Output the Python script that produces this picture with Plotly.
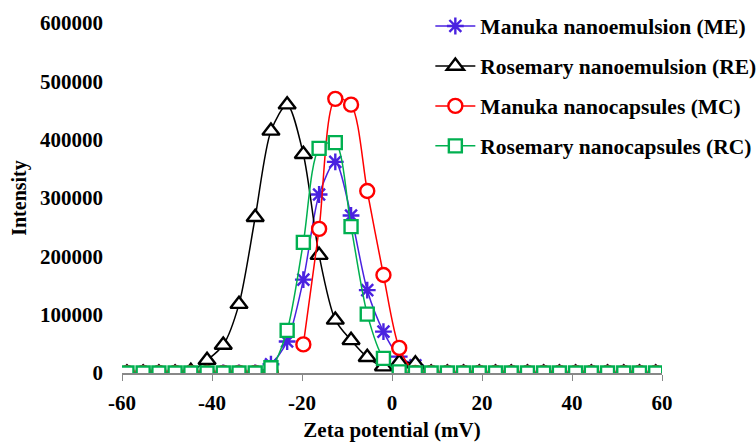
import plotly.graph_objects as go

# Zeta potential grid (mV)
zeta_mv = [-58.9, -55.3, -51.8, -48.2, -44.7, -41.1, -37.5, -34.0, -30.4, -26.9,
           -23.3, -19.7, -16.2, -12.6, -9.1, -5.5, -1.9, 1.6, 5.2, 8.7,
           12.3, 15.9, 19.4, 23.0, 26.5, 30.1, 33.7, 37.2, 40.8, 44.3,
           47.9, 51.5, 55.0, 58.6]

manuka_ne = [0, 0, 0, 0, 0, 0, 0, 0, 0, 15000,
             54000, 160000, 306000, 362000, 270000, 142000, 71000, 28000, 13000, 0,
             0, 0, 0, 0, 0, 0, 0, 0, 0, 0,
             0, 0, 0, 0]

rosemary_ne = [0, 0, 0, 0, 3000, 22000, 48000, 118000, 267000, 415000,
               460000, 375000, 202000, 91000, 56000, 27000, 11000, 18000, 16000, 0,
               0, 0, 0, 0, 0, 0, 0, 0, 0, 0,
               0, 0, 0, 0]

manuka_nc = [0, 0, 0, 0, 0, 0, 0, 0, 0, 0,
             None, 49000, 247000, 470000, 460000, 312000, 168000, 43000, 0, 0,
             0, 0, 0, 0, 0, 0, 0, 0, 0, 0,
             0, 0, 0, 0]

rosemary_nc = [0, 0, 0, 0, 0, 0, 0, 0, 0, 9000,
               73000, 224000, 385000, 395000, 251000, 101000, 25000, 2000, 0, 0,
               0, 0, 0, 0, 0, 0, 0, 0, 0, 0,
               0, 0, 0, 0]

series_names = ["Manuka nanoemulsion (ME)", "Rosemary nanoemulsion (RE)",
                "Manuka nanocapsules (MC)", "Rosemary nanocapsules (RC)"]
x_ticks = [-60, -40, -20, 0, 20, 40, 60]
y_ticks = [0, 100000, 200000, 300000, 400000, 500000, 600000]

styles = [
    dict(color="#4A22E0", symbol="asterisk-open", size=14, fill="#4A22E0"),
    dict(color="#000000", symbol="triangle-up", size=15, fill="white"),
    dict(color="#FF0000", symbol="circle", size=14, fill="white"),
    dict(color="#00B050", symbol="square", size=13, fill="white"),
]

fig = go.Figure()
for i, (name, ys, st) in enumerate(zip(series_names,
                                       [manuka_ne, rosemary_ne, manuka_nc, rosemary_nc],
                                       styles)):
    fig.add_trace(go.Scatter(
        x=zeta_mv, y=ys, name=name, mode="lines+markers",
        legendgroup=f"g{i}",
        line=dict(color=st["color"], width=1.5, shape="spline", smoothing=0.8),
        marker=dict(symbol=st["symbol"], size=st["size"],
                    color=st["fill"], line=dict(color=st["color"], width=2.4)),
        connectgaps=False,
    ))

FONT = "Liberation Serif, Times New Roman, serif"
fig.update_layout(
    width=756, height=442,
    margin=dict(l=122, r=94, t=23, b=69, autoexpand=False),
    paper_bgcolor="white", plot_bgcolor="white",
    font=dict(family=FONT, size=21, color="black", weight="bold"),
    legend=dict(x=0.571, y=1.05, xanchor="left", yanchor="top",
                bgcolor="rgba(0,0,0,0)", tracegroupgap=9, itemwidth=40,
                font=dict(family=FONT, size=21.5, color="black", weight="bold")),
    xaxis=dict(range=[-60, 60], tickvals=x_ticks, ticktext=[str(v) for v in x_ticks],
               showgrid=False, zeroline=False, showline=True, linecolor="#888888",
               linewidth=1.5, ticks="outside", ticklen=6, tickcolor="#888888",
               ticklabelstandoff=4, automargin=False,
               title=dict(text="Zeta potential (mV)", standoff=15,
                          font=dict(size=21))),
    yaxis=dict(range=[0, 600000], tickvals=y_ticks, ticktext=[str(v) for v in y_ticks],
               showgrid=False, zeroline=False, showline=False, ticks="",
               ticklabelstandoff=18, automargin=False,
               title=dict(text="Intensity", standoff=8, font=dict(size=20))),
)

fig.write_html("out.html")
